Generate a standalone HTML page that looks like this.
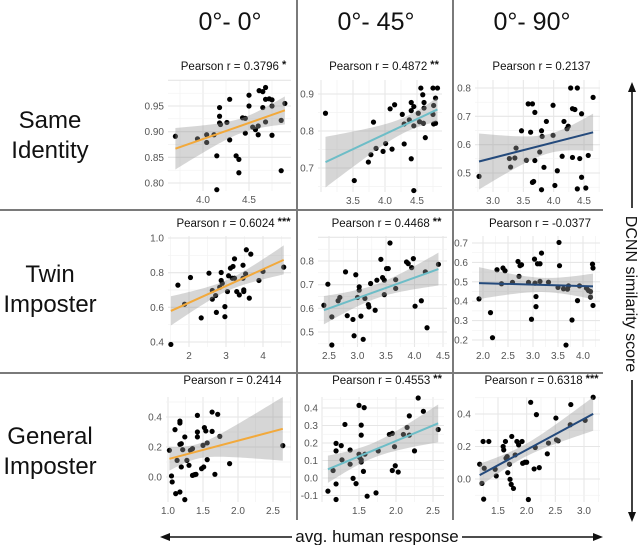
<!DOCTYPE html>
<html><head><meta charset="utf-8">
<style>
html,body{margin:0;padding:0;background:#fff;}
body{width:640px;height:545px;overflow:hidden;font-family:"Liberation Sans",sans-serif;}
svg{display:block;}
</style></head>
<body>
<svg id="fig" width="640" height="545" viewBox="0 0 640 545">
  <g stroke="#7a7a7a" stroke-width="2">
    <line x1="297" y1="0" x2="297" y2="520"/>
    <line x1="453" y1="0" x2="453" y2="520"/>
    <line x1="0" y1="210" x2="603" y2="210"/>
    <line x1="0" y1="373" x2="603" y2="373"/>
  </g>
  <g font-size="25" fill="#111" text-anchor="middle">
    <text x="230" y="30">0°- 0°</text>
    <text x="376" y="30">0°- 45°</text>
    <text x="532" y="30">0°- 90°</text>
  </g>
  <g font-size="24" fill="#111" text-anchor="middle">
    <text x="50" y="128">Same</text>
    <text x="50" y="158">Identity</text>
    <text x="50" y="282">Twin</text>
    <text x="50" y="312">Imposter</text>
    <text x="50" y="444">General</text>
    <text x="50" y="474">Imposter</text>
  </g>
  <g stroke="#111" stroke-width="1.6" fill="#111">
    <line x1="632" y1="90" x2="632" y2="208"/>
    <polygon points="632,82 628,92 636,92" stroke="none"/>
    <line x1="632" y1="380" x2="632" y2="514"/>
    <polygon points="632,522 628,512 636,512" stroke="none"/>
  </g>
  <text x="0" y="0" transform="translate(626,294) rotate(90)" font-size="16" fill="#111" text-anchor="middle">DCNN similarity score</text>
  <g stroke="#111" stroke-width="1.6" fill="#111">
    <line x1="168" y1="537" x2="292" y2="537"/>
    <polygon points="160,537 170,533 170,541" stroke="none"/>
    <line x1="462" y1="537" x2="595" y2="537"/>
    <polygon points="603,537 593,533 593,541" stroke="none"/>
  </g>
  <text x="377" y="542" font-size="17" fill="#111" text-anchor="middle">avg. human response</text>
  <g id="panels"></g>
</svg>
<script>
// ---- data ----
const p1x=[3.70,3.94,4.04,4.04,4.12,4.15,4.15,4.18,4.18,4.18,4.19,4.26,4.29,4.29,4.36,4.39,4.39,4.43,4.46,4.46,4.50,4.50,4.54,4.57,4.60,4.60,4.61,4.65,4.65,4.68,4.68,4.68,4.72,4.75,4.75,4.75,4.85,4.85,4.89];
const p1y=[0.891,0.886,0.894,0.879,0.894,0.787,0.853,0.947,0.930,0.917,0.914,0.918,0.963,0.884,0.853,0.846,0.820,0.927,0.926,0.897,0.971,0.950,0.909,0.904,0.911,0.894,0.980,0.978,0.947,0.986,0.963,0.919,0.964,0.950,0.893,0.962,0.922,0.824,0.955];
const p2x=[3.07,3.52,3.82,3.78,3.74,3.86,3.97,4.01,4.08,4.15,4.11,4.27,4.30,4.30,4.38,4.41,4.41,4.41,4.45,4.45,4.45,4.52,4.54,4.56,4.59,4.61,4.61,4.63,4.60,4.75,4.76,4.75,4.76,4.79,4.79,4.82];
const p2y=[0.848,0.666,0.824,0.736,0.716,0.753,0.745,0.766,0.860,0.871,0.751,0.845,0.819,0.765,0.830,0.877,0.855,0.725,0.639,0.866,0.814,0.848,0.825,0.916,0.898,0.877,0.862,0.782,0.821,0.916,0.869,0.845,0.819,0.889,0.821,0.916];
const p3x=[2.77,3.47,3.36,3.29,3.27,3.38,3.55,3.58,3.65,3.62,3.65,3.67,3.69,3.69,3.77,3.80,3.80,3.81,3.84,3.88,3.99,3.99,4.02,4.06,4.14,4.17,4.22,4.24,4.28,4.31,4.31,4.35,4.39,4.39,4.43,4.46,4.46,4.53,4.57,4.65];
const p3y=[0.488,0.649,0.553,0.521,0.551,0.588,0.545,0.744,0.744,0.644,0.467,0.470,0.714,0.544,0.574,0.441,0.649,0.629,0.520,0.682,0.739,0.633,0.456,0.508,0.559,0.682,0.656,0.665,0.800,0.555,0.727,0.724,0.800,0.444,0.551,0.709,0.485,0.447,0.562,0.767];
const p4x=[1.51,1.88,1.70,2.04,2.33,2.54,2.63,2.63,2.72,2.74,2.83,2.87,2.87,2.90,2.97,2.97,3.04,3.07,3.12,3.17,3.19,3.23,3.23,3.29,3.36,3.46,3.48,3.48,3.53,3.55,3.63,3.67,3.89,4.00,4.56,3.46];
const p4y=[0.386,0.618,0.728,0.772,0.539,0.797,0.697,0.647,0.668,0.571,0.716,0.755,0.801,0.739,0.546,0.604,0.691,0.782,0.826,0.768,0.836,0.768,0.880,0.691,0.672,0.843,0.691,0.701,0.793,0.932,0.653,0.907,0.755,0.807,0.832,0.768];
const p5x=[2.41,2.48,2.55,2.55,2.66,2.69,2.79,2.82,2.92,2.94,2.97,3.00,3.03,3.03,3.06,3.10,3.13,3.19,3.20,3.23,3.31,3.34,3.41,3.44,3.47,3.47,3.51,3.54,3.57,3.67,3.67,3.86,3.89,3.95,3.98,4.01,4.12,4.19,4.22,4.42];
const p5y=[0.613,0.702,0.564,0.445,0.632,0.646,0.754,0.569,0.553,0.484,0.742,0.646,0.691,0.677,0.567,0.469,0.642,0.616,0.606,0.705,0.592,0.719,0.807,0.730,0.719,0.658,0.768,0.768,0.876,0.721,0.684,0.796,0.789,0.772,0.810,0.609,0.632,0.754,0.518,0.786];
const p6x=[1.92,2.15,2.19,2.28,2.40,2.44,2.37,2.59,2.70,2.74,2.77,2.72,2.91,2.97,3.03,3.04,3.06,3.06,3.09,3.14,3.14,3.17,3.31,3.52,3.53,3.50,3.61,3.66,3.69,3.71,3.78,3.89,3.93,4.07,4.11,4.15,4.19,4.20,4.20,4.15];
const p6y=[0.412,0.341,0.212,0.562,0.571,0.557,0.490,0.497,0.605,0.583,0.588,0.528,0.497,0.307,0.617,0.493,0.424,0.372,0.593,0.593,0.502,0.648,0.498,0.703,0.583,0.471,0.464,0.174,0.462,0.479,0.303,0.403,0.479,0.467,0.455,0.421,0.591,0.571,0.378,0.450];
const p7x=[1.02,1.05,1.06,1.10,1.11,1.13,1.17,1.17,1.17,1.17,1.19,1.19,1.21,1.24,1.24,1.27,1.30,1.32,1.35,1.35,1.38,1.40,1.42,1.42,1.42,1.48,1.50,1.51,1.52,1.54,1.56,1.56,1.63,1.63,1.67,1.71,1.74,1.88,2.64];
const p7y=[0.178,0.007,-0.033,0.316,-0.111,0.111,0.373,0.360,-0.100,0.218,0.067,0.222,0.182,0.267,-0.151,0.111,0.078,0.178,0.189,0.011,0.016,0.018,0.267,0.300,0.411,0.056,0.211,0.067,0.329,0.307,0.227,0.116,0.304,0.433,0.018,0.418,0.271,0.089,0.209];
const p8x=[1.08,1.15,1.19,1.19,1.19,1.19,1.26,1.27,1.31,1.38,1.38,1.42,1.46,1.50,1.50,1.51,1.53,1.53,1.53,1.53,1.56,1.57,1.58,1.61,1.73,1.76,1.91,1.95,1.95,1.98,1.99,2.03,2.10,2.15,2.18,2.25,2.30,2.37,2.57,2.18];
const p8y=[-0.075,0.043,0.198,0.155,-0.034,-0.123,0.185,0.104,0.306,0.160,0.079,-0.002,-0.032,0.415,0.136,0.117,0.302,0.245,0.104,0.091,0.038,0.402,0.136,-0.104,-0.085,0.155,0.249,0.255,0.043,0.179,0.070,0.034,0.249,0.289,0.355,0.155,0.457,0.381,0.277,0.245];
const p9x=[1.18,1.22,1.25,1.24,1.34,1.26,1.45,1.47,1.59,1.60,1.63,1.64,1.66,1.67,1.70,1.71,1.73,1.74,1.77,1.80,1.83,1.86,1.92,1.93,1.97,2.00,2.03,2.07,2.13,2.15,2.17,2.22,2.36,2.38,2.51,2.52,2.55,2.77,2.76,3.02,3.16];
const p9y=[0.091,-0.027,-0.124,0.231,0.231,0.066,0.060,0.019,0.200,0.179,0.231,0.128,0.138,0.039,0.091,-0.002,-0.033,0.262,-0.058,0.148,0.231,0.210,0.231,0.097,0.103,0.103,-0.126,0.472,0.062,0.194,0.396,0.070,0.155,0.221,0.375,0.241,0.235,0.458,0.334,0.361,0.503];
const pearsonValues=["0.3796","0.4872","0.2137","0.6024","0.4468","-0.0377","0.2414","0.4553","0.6318"];
const significance=["*","**","","***","**","","","**","***"];
const xTicks=[[4.0,4.5],[3.5,4.0,4.5],[3.0,3.5,4.0,4.5],[2,3,4],[2.5,3.0,3.5,4.0,4.5],[2.0,2.5,3.0,3.5,4.0],[1.0,1.5,2.0,2.5],[1.5,2.0,2.5],[1.5,2.0,2.5,3.0]];
const yTicks=[[0.80,0.85,0.90,0.95],[0.7,0.8,0.9],[0.5,0.6,0.7,0.8],[0.4,0.6,0.8,1.0],[0.5,0.6,0.7,0.8],[0.2,0.3,0.4,0.5,0.6,0.7],[0.0,0.2,0.4],[-0.1,0.0,0.1,0.2,0.3,0.4],[0.0,0.2,0.4]];
const xDec=[1,1,1,0,1,1,1,1,1];
const yDec=[2,1,1,1,1,1,1,1,1];
const xs=[p1x,p2x,p3x,p4x,p5x,p6x,p7x,p8x,p9x];
const ys=[p1y,p2y,p3y,p4y,p5y,p6y,p7y,p8y,p9y];

// ---- layout (pixel calibration, not data) ----
const layout=[
 {xa:[4.0,203],xb:[4.5,249],ya:[0.95,106],yb:[0.80,183],L:168,R:291,T:80,B:191,ty:70},
 {xa:[3.5,353],xb:[4.5,417],ya:[0.9,94],yb:[0.7,168],L:318,R:442,T:80,B:192,ty:70},
 {xa:[3.0,493],xb:[4.5,584],ya:[0.8,88],yb:[0.5,173],L:475,R:600,T:80,B:192,ty:70},
 {xa:[2,189],xb:[4,263],ya:[1.0,238],yb:[0.4,342],L:168,R:291,T:236,B:347,ty:227},
 {xa:[2.5,329],xb:[4.5,443],ya:[0.8,261],yb:[0.5,332],L:318,R:447,T:236,B:347,ty:227},
 {xa:[2.0,483],xb:[4.0,583],ya:[0.7,243],yb:[0.2,340],L:472,R:600,T:236,B:347,ty:227},
 {xa:[1.0,168],xb:[2.5,273],ya:[0.4,417],yb:[0.0,477],L:166,R:291,T:397,B:502,ty:384},
 {xa:[1.5,359],xb:[2.5,433],ya:[0.4,408],yb:[0.0,478],L:322,R:444,T:397,B:502,ty:384},
 {xa:[1.5,498],xb:[3.0,584],ya:[0.4,414],yb:[0.0,479],L:475,R:600,T:397,B:502,ty:384}
];
const lineColors=["#f2a93b","#6dbdc7","#244a7c"];
const NS="http://www.w3.org/2000/svg";
function mk(tag,attrs,parent){const e=document.createElementNS(NS,tag);for(const k in attrs)e.setAttribute(k,attrs[k]);parent.appendChild(e);return e;}
const root=document.getElementById('panels');

for(let i=0;i<9;i++){
  const c=layout[i];
  const sx=v=>c.xa[1]+(v-c.xa[0])*(c.xb[1]-c.xa[1])/(c.xb[0]-c.xa[0]);
  const sy=v=>c.ya[1]+(v-c.ya[0])*(c.yb[1]-c.ya[1])/(c.yb[0]-c.ya[0]);
  const g=mk('g',{},root);
  
  
  const grid=mk('g',{},g);
  
  
  const xt=xTicks[i], yt=yTicks[i];
  const xstep=xt[1]-xt[0], ystep=yt[1]-yt[0];
  for(let v=xt[0]-xstep*3;v<=xt[xt.length-1]+xstep*3;v+=xstep/2){
    const px=sx(v); if(px<c.L||px>c.R)continue;
    const major=Math.abs((v-xt[0])/xstep-Math.round((v-xt[0])/xstep))<1e-6;
    mk('line',{x1:px,x2:px,y1:c.T,y2:c.B,stroke:major?'#e6e6e6':'#f2f2f2','stroke-width':major?1.1:0.7},grid);
  }
  for(let v=yt[0]-ystep*3;v<=yt[yt.length-1]+ystep*3;v+=ystep/2){
    const py=sy(v); if(py<c.T||py>c.B)continue;
    const major=Math.abs((v-yt[0])/ystep-Math.round((v-yt[0])/ystep))<1e-6;
    mk('line',{x1:c.L,x2:c.R,y1:py,y2:py,stroke:major?'#e6e6e6':'#f2f2f2','stroke-width':major?1.1:0.7},grid);
  }
  xt.forEach(v=>{
    const t=mk('text',{x:sx(v),y:c.B+12,'font-size':10,fill:'#555','text-anchor':'middle'},g);
    
    
    t.textContent=v.toFixed(xDec[i]);
  });
  yt.forEach(v=>{
    const t=mk('text',{x:c.L-4,y:sy(v)+3.5,'font-size':10,fill:'#555','text-anchor':'end'},g);
    
    
    t.textContent=v.toFixed(yDec[i]);
  });
  const X=xs[i],Y=ys[i];
  X.forEach((xv,k)=>{
    const p=mk('circle',{cx:sx(xv),cy:sy(Y[k]),r:2.6,fill:'#000'},g);
    
    
  });
  const n=X.length;
  const mx=X.reduce((a,b)=>a+b,0)/n, my=Y.reduce((a,b)=>a+b,0)/n;
  let sxx=0,sxy=0; for(let k=0;k<n;k++){sxx+=(X[k]-mx)**2;sxy+=(X[k]-mx)*(Y[k]-my);}
  const b=sxy/sxx, a=my-b*mx;
  let sse=0; for(let k=0;k<n;k++){sse+=(Y[k]-a-b*X[k])**2;}
  const s=Math.sqrt(sse/(n-2)), tval=2.02;
  const xmin=Math.min(...X), xmax=Math.max(...X);
  const up=[],lo=[];
  for(let j=0;j<=40;j++){
    const xv=xmin+(xmax-xmin)*j/40, yh=a+b*xv;
    const se=s*Math.sqrt(1/n+(xv-mx)**2/sxx);
    up.push(sx(xv).toFixed(2)+','+sy(yh+tval*se).toFixed(2));
    lo.unshift(sx(xv).toFixed(2)+','+sy(yh-tval*se).toFixed(2));
  }
  const band=mk('polygon',{points:up.concat(lo).join(' '),fill:'#999','fill-opacity':0.4},g);
  
  
  const ln=mk('line',{x1:sx(xmin),y1:sy(a+b*xmin),x2:sx(xmax),y2:sy(a+b*xmax),stroke:lineColors[i%3],'stroke-width':2},g);
  
  
  const tt=mk('text',{x:(c.L+c.R)/2+4,y:c.ty,'font-size':11.5,fill:'#111','text-anchor':'middle'},g);
  
  
  tt.textContent='Pearson r = '+pearsonValues[i];
  if(significance[i]){
    const sp=mk('tspan',{'font-size':11,'font-weight':'bold',dy:-2},tt);
    sp.textContent=' '+significance[i];
  }
}
</script>
</body></html>
